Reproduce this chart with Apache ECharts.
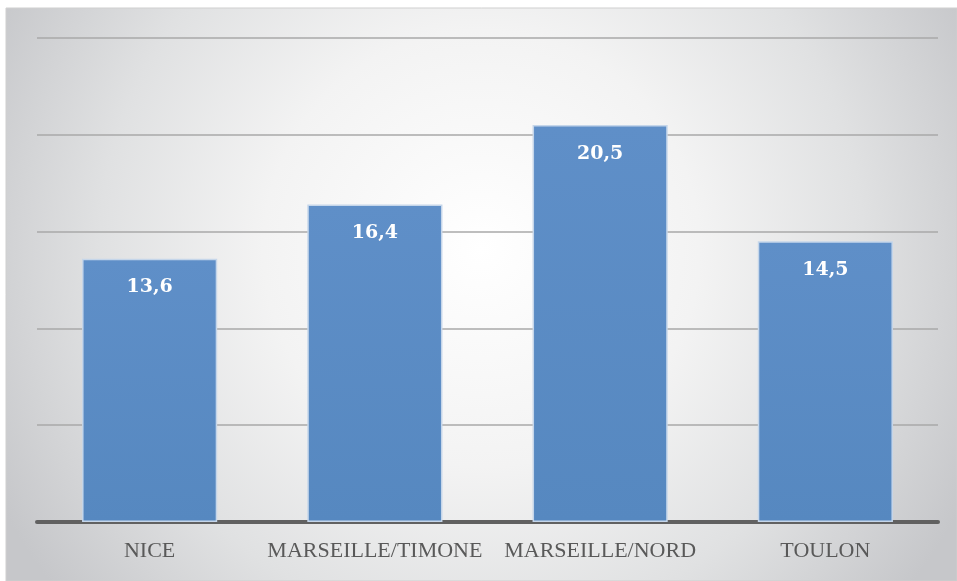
<!DOCTYPE html>
<html>
<head>
<meta charset="utf-8">
<script src="https://cdn.jsdelivr.net/npm/echarts@6/dist/echarts.min.js"></script>
<style>html,body{margin:0;padding:0;background:#fff}#c{width:957px;height:581px}</style>
</head>
<body>
<div id="c"></div>
<script>
var categories = ['NICE', 'MARSEILLE/TIMONE', 'MARSEILLE/NORD', 'TOULON'];
var values = [13.6, 16.4, 20.5, 14.5];
var yMax = 25;
var yInterval = 5;

var chart = echarts.init(document.getElementById('c'));
chart.setOption({
  animation: false,
  graphic: [{
    type: 'rect', z: -10, silent: true,
    shape: {x: 6, y: 8, width: 951, height: 573},
    style: {
      fill: new echarts.graphic.RadialGradient(0.5, 0.42, 0.95, [
        {offset: 0, color: '#ffffff'},
        {offset: 0.4, color: '#f3f3f3'},
        {offset: 0.7, color: '#e0e1e2'},
        {offset: 1, color: '#c6c7ca'}
      ]),
      stroke: '#cfcfcf', lineWidth: 1
    }
  }],
  grid: {left: 37, right: 19, top: 38, bottom: 59, containLabel: false},
  xAxis: {
    type: 'category', data: categories,
    axisLine: {show: true, lineStyle: {color: '#616161', width: 4}},
    axisTick: {show: false},
    axisLabel: {interval: 0, hideOverlap: false, color: '#595959', fontFamily: 'Liberation Serif', fontSize: 22, margin: 18}
  },
  yAxis: {
    type: 'value', min: 0, max: yMax, interval: yInterval,
    axisLine: {show: false}, axisTick: {show: false}, axisLabel: {show: false},
    splitLine: {lineStyle: {color: '#a8a8a8', width: 1.5}}
  },
  series: [{
    type: 'bar', data: values, barWidth: '60%',
    itemStyle: {
      color: new echarts.graphic.LinearGradient(0, 0, 0, 1, [
        {offset: 0, color: '#5f8fc8'},
        {offset: 1, color: '#5688c0'}
      ]),
      borderColor: '#c5d6ea', borderWidth: 1.5
    },
    label: {
      show: true, position: 'insideTop', distance: 19,
      color: '#ffffff', fontFamily: 'DejaVu Serif', fontWeight: 'bold', fontSize: 19,
      formatter: function (p) { return String(p.value).replace('.', ','); }
    }
  }]
});
</script>
</body>
</html>
